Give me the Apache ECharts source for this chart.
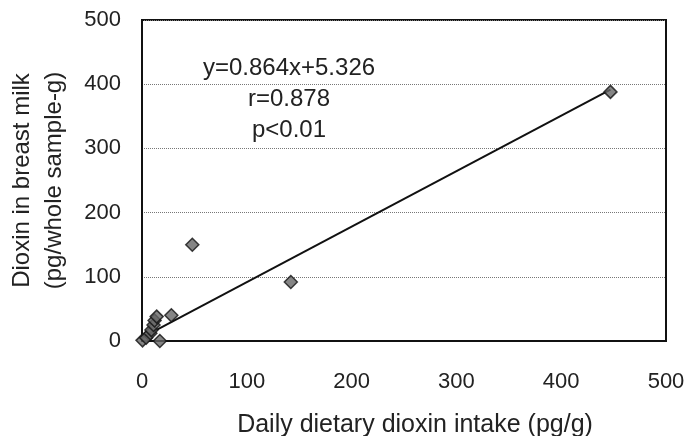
<!DOCTYPE html>
<html>
<head>
<meta charset="utf-8">
<script src="https://cdn.jsdelivr.net/npm/echarts@6/dist/echarts.min.js"></script>
<style>
  body { margin: 0; background: #fff; }
  #chart { width: 688px; height: 436px; }
</style>
</head>
<body>
<div id="chart"></div>
<script>
// daily intake (x) vs breast milk dioxin (y)
const intake = [0.5, 4, 8, 9, 11, 12, 14, 17, 28, 48, 142, 447];
const milk = [1, 5, 12, 17, 25, 32, 38, 0, 40, 150, 92, 388];
const slope = [0.864];
const intercept = [5.326];
const fitRange = [0, 447];
const ticks = [0, 100, 200, 300, 400, 500];
const notes = ['y=0.864x+5.326', 'r=0.878', 'p<0.01'];

const points = intake.map((x, i) => [x, milk[i]]);
const fitLine = fitRange.map((x) => [x, slope[0] * x + intercept[0]]);

const font = 'Liberation Sans, Arial, sans-serif';
const chart = echarts.init(document.getElementById('chart'));

chart.setOption({
  animation: false,
  grid: { left: 142, right: 22, top: 20, bottom: 95, outerBoundsMode: 'none' },
  xAxis: {
    type: 'value',
    min: ticks[0],
    max: ticks[ticks.length - 1],
    interval: 100,
    name: 'Daily dietary dioxin intake (pg/g)',
    nameLocation: 'middle',
    nameGap: 72,
    nameTextStyle: { fontFamily: font, fontSize: 25, color: '#222', padding: [0, 0, 0, 22] },
    axisLine: { lineStyle: { color: '#111', width: 2 } },
    axisTick: { show: false },
    axisLabel: { margin: 30, fontFamily: font, fontSize: 22, color: '#222' },
    splitLine: { show: false },
  },
  yAxis: {
    type: 'value',
    min: ticks[0],
    max: ticks[ticks.length - 1],
    interval: 100,
    name: 'Dioxin in breast milk\n(pg/whole sample-g)',
    nameLocation: 'middle',
    nameRotate: 90,
    nameGap: 72,
    nameTextStyle: { fontFamily: font, fontSize: 24, color: '#222', lineHeight: 32 },
    axisLine: { lineStyle: { color: '#111', width: 2 } },
    axisTick: { show: false },
    axisLabel: { margin: 21, fontFamily: font, fontSize: 22, color: '#222' },
    splitLine: { lineStyle: { color: '#777', type: 'dotted', width: 1 } },
  },
  graphic: [
    {
      type: 'rect',
      shape: { x: 142, y: 20, width: 524, height: 321 },
      style: { fill: 'none', stroke: '#111', lineWidth: 2 },
      silent: true,
    },
  ].concat(notes.map((t, i) => ({
    type: 'text',
    x: 289,
    y: 68 + i * 31,
    style: {
      text: t,
      fontFamily: font,
      fontSize: 24,
      fill: '#222',
      textAlign: 'center',
      textVerticalAlign: 'middle',
    },
  }))),
  series: [
    {
      type: 'line',
      data: fitLine,
      symbol: 'none',
      lineStyle: { color: '#111', width: 2 },
      z: 2,
    },
    {
      type: 'scatter',
      data: points,
      symbol: 'diamond',
      symbolSize: 13,
      itemStyle: { color: '#666', borderColor: '#111', borderWidth: 1.5 },
      z: 3,
    },
  ],
});
</script>
</body>
</html>
